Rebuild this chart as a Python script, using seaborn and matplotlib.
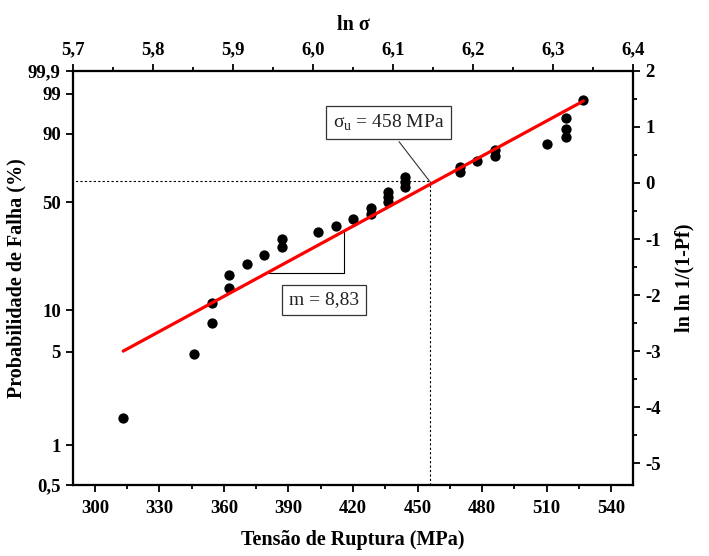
import matplotlib
matplotlib.use('Agg')
import matplotlib.pyplot as plt
from matplotlib.ticker import FixedLocator, NullLocator, MultipleLocator, FuncFormatter
import numpy as np
import seaborn as sns

# rupture strength (MPa) and failure probability (%)
strength = [313.2, 346.0, 354.3, 354.3, 362.5, 362.5, 370.6, 378.8, 387.2, 387.2,
            403.6, 412.0, 420.2, 428.4, 428.4, 436.4, 436.4, 436.4, 444.2, 444.2,
            444.2, 469.5, 469.5, 477.8, 486.1, 486.1, 510.4, 518.9, 518.9, 518.9, 527.1]
pf = [1.6, 4.8, 8.1, 11.3, 14.5, 17.7, 21.0, 24.2, 27.4, 30.6,
      33.9, 37.1, 40.3, 43.5, 46.8, 50.0, 53.2, 56.5, 59.7, 62.9,
      66.1, 69.4, 72.6, 75.8, 79.0, 82.3, 85.5, 88.7, 91.9, 95.2, 98.4]

# weibull fit line (end points)
fit_x = [313.2, 527.1]
fit_pf = [5.05, 98.3]

sigma_u = 456.0   # where the fit crosses 63,2 %
pf_char = 63.2

pf_ticks = [0.5, 1, 5, 10, 50, 90, 99, 99.9]
lnln_ticks = [-5, -4, -3, -2, -1, 0, 1, 2]
ln_ticks = [5.7, 5.8, 5.9, 6.0, 6.1, 6.2, 6.3, 6.4]
mpa_ticks = [300, 330, 360, 390, 420, 450, 480, 510, 540]


def fwd(p):
    p = np.clip(np.asarray(p, dtype=float), 1e-9, 100 - 1e-9)
    return np.log(-np.log(1 - p / 100))


def inv(y):
    return 100 * (1 - np.exp(-np.exp(np.asarray(y, dtype=float))))


sns.set_style('ticks')
plt.rcParams['font.family'] = ['Liberation Serif', 'DejaVu Serif']
plt.rcParams['axes.unicode_minus'] = False
plt.rcParams['axes.linewidth'] = 1.5
for k in ('text.color', 'axes.labelcolor', 'xtick.color', 'ytick.color', 'axes.edgecolor'):
    plt.rcParams[k] = 'black'

fig = plt.figure(figsize=(7.09, 5.56), dpi=100)
ax = fig.add_axes([73.3 / 709, 1 - 485 / 556, 559.4 / 709, 414.3 / 556])
ax.set_yscale('function', functions=(fwd, inv))

sns.scatterplot(x=strength, y=pf, ax=ax, color='black', s=55, linewidth=0, zorder=3)
sns.lineplot(x=fit_x, y=fit_pf, ax=ax, color='#ff0000', lw=2.3, zorder=4)

# dotted guides at the characteristic strength
ax.plot([289, sigma_u], [pf_char, pf_char], color='black', lw=0.8, ls=(0, (2, 2)))
ax.plot([sigma_u, sigma_u], [0.5, pf_char], color='black', lw=0.8, ls=(0, (2, 2)))

# slope triangle
ax.plot([380.7, 416.0, 416.0], [18.4, 18.4, 34.9], color='black', lw=0.8)
# leader to sigma_u
ax.plot([441.4, 455.5], [86.5, 63.5], color='#333333', lw=0.8)

box = dict(boxstyle='square,pad=0.35', fc='white', ec='#333333', lw=0.9)
ax.text(436.6, 93.9, 'σ$_\\mathregular{u}$ = 458 MPa', fontsize=14, ha='center',
        va='center', bbox=box, color='#222222')
ax.text(406.5, 11.9, 'm = 8,83', fontsize=14, ha='center', va='center', bbox=box,
        color='#222222')

ax.set_xlim(290, 550)
ax.set_ylim(0.5, 99.9)
ax.xaxis.set_major_locator(FixedLocator(mpa_ticks))
ax.xaxis.set_minor_locator(MultipleLocator(15))
ax.yaxis.set_major_locator(FixedLocator(pf_ticks))
ax.yaxis.set_minor_locator(NullLocator())
ax.yaxis.set_major_formatter(FuncFormatter(lambda v, _: ('%g' % v).replace('.', ',')))
ax.set_xlabel('Tensão de Ruptura (MPa)', fontsize=14.5, fontweight='bold', labelpad=9)
ax.set_ylabel('Probabilidade de Falha (%)', fontsize=14.5, fontweight='bold', labelpad=1)

# right axis: ln ln 1/(1-Pf)
ax2 = ax.twinx()
ax2.set_ylim(-5.385, 2)
ax2.yaxis.set_major_locator(FixedLocator(lnln_ticks))
ax2.yaxis.set_minor_locator(MultipleLocator(0.5))
ax2.set_ylabel('ln ln 1/(1-Pf)', fontsize=14.5, fontweight='bold', labelpad=10)

# top axis: ln sigma
ax3 = ax.twiny()
ax3.set_xlim(5.7, 6.4)
ax3.xaxis.set_major_locator(FixedLocator(ln_ticks))
ax3.xaxis.set_minor_locator(MultipleLocator(0.05))
ax3.xaxis.set_major_formatter(FuncFormatter(lambda v, _: ('%.1f' % v).replace('.', ',')))
ax3.set_xlabel('ln σ', fontsize=14.5, fontweight='bold', labelpad=8)

for a in (ax, ax2, ax3):
    a.tick_params(which='major', direction='out', length=5, width=1.3, labelsize=13.5, pad=4,
                  color='black', labelcolor='black')
    a.tick_params(which='minor', direction='out', length=3, width=1.3, color='black')
    for lab in a.get_xticklabels() + a.get_yticklabels():
        lab.set_fontweight('bold')
    for s in a.spines.values():
        s.set_visible(True)
        s.set_color('black')
        s.set_linewidth(1.5)
ax.tick_params(axis='x', pad=6)

fig.savefig('out.png', dpi=100)
